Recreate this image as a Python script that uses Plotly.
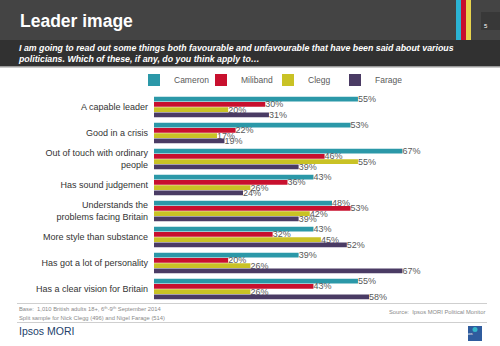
import plotly.graph_objects as go

categories = [
    "A capable leader",
    "Good in a crisis",
    "Out of touch with ordinary<br>people",
    "Has sound judgement",
    "Understands the<br>problems facing Britain",
    "More style than substance",
    "Has got a lot of personality",
    "Has a clear vision for Britain",
]
cameron = [55, 53, 67, 43, 48, 43, 39, 55]
miliband = [30, 22, 46, 36, 53, 32, 20, 43]
clegg = [20, 17, 55, 26, 42, 45, 26, 26]
farage = [31, 19, 39, 24, 39, 52, 67, 58]

series = [
    ("Cameron", cameron, "#2B98A8"),
    ("Miliband", miliband, "#C8102E"),
    ("Clegg", clegg, "#C9C225"),
    ("Farage", farage, "#4A3B64"),
]

W, H = 500, 346
L, R, T, B = 154, 487, 94, 302

def px(x):
    return (x - L) / (R - L)

def py(y):
    return (B - y) / (B - T)

font = "Liberation Sans, Arial, sans-serif"

fig = go.Figure()
for name, vals, col in series:
    fig.add_trace(go.Bar(
        name=name, y=categories, x=vals, orientation="h",
        marker=dict(color=col, line=dict(width=0)),
        text=[f"{v}%" for v in vals], textposition="outside", constraintext="none",
        textfont=dict(size=9, color="#595959", family=font),
        cliponaxis=False,
    ))

shapes = [
    dict(type="rect", xref="paper", yref="paper", x0=px(0), x1=px(W), y0=py(0), y1=py(40),
         fillcolor="#444444", line=dict(width=0), layer="below"),
    dict(type="rect", xref="paper", yref="paper", x0=px(0), x1=px(W), y0=py(40), y1=py(66),
         fillcolor="#313131", line=dict(width=0), layer="below"),
    dict(type="rect", xref="paper", yref="paper", x0=px(0), x1=px(W), y0=py(66), y1=py(67.5),
         fillcolor="#9a9a9a", line=dict(width=0), layer="below"),
    dict(type="rect", xref="paper", yref="paper", x0=px(456), x1=px(461), y0=py(0), y1=py(40),
         fillcolor="#2BB3D4", line=dict(width=0)),
    dict(type="rect", xref="paper", yref="paper", x0=px(461), x1=px(466), y0=py(0), y1=py(40),
         fillcolor="#C8102E", line=dict(width=0)),
    dict(type="rect", xref="paper", yref="paper", x0=px(466), x1=px(471), y0=py(0), y1=py(40),
         fillcolor="#E8D44D", line=dict(width=0)),
    dict(type="rect", xref="paper", yref="paper", x0=px(481), x1=px(500), y0=py(12), y1=py(30),
         fillcolor="#383838", line=dict(width=0)),
    dict(type="line", xref="paper", yref="paper", x0=px(17), x1=px(487), y0=py(303.5), y1=py(303.5),
         line=dict(color="#cfcfcf", width=1)),
    dict(type="line", xref="paper", yref="paper", x0=px(17), x1=px(487), y0=py(322.5), y1=py(322.5),
         line=dict(color="#cfcfcf", width=1)),
    dict(type="rect", xref="paper", yref="paper", x0=px(468), x1=px(482), y0=py(326), y1=py(341),
         fillcolor="#2F5C9E", line=dict(width=0)),
    dict(type="circle", xref="paper", yref="paper", x0=px(472.5), x1=px(477.5), y0=py(327), y1=py(332),
         fillcolor="#35B7C9", line=dict(width=0)),
]

annotations = [
    dict(text="<b>Leader image</b>", x=px(18), y=py(21), xref="paper", yref="paper",
         xanchor="left", yanchor="middle", showarrow=False,
         font=dict(size=17.5, color="white", family=font)),
    dict(text="<b><i>I am going to read out some things both favourable and unfavourable that have been said about various<br>politicians. Which of these, if any, do you think apply to\u2026</i></b>",
         x=px(16), y=py(53), xref="paper", yref="paper", xanchor="left", yanchor="middle",
         align="left", showarrow=False, font=dict(size=8.8, color="white", family=font)),
    dict(text="5", x=px(490), y=py(21), xref="paper", yref="paper", showarrow=False,
         font=dict(size=6, color="white", family=font)),
    dict(text="Base:  1,010 British adults 18+, 6<sup>th</sup>-9<sup>th</sup> September 2014",
         x=px(17), y=py(308.5), xref="paper", yref="paper", xanchor="left", yanchor="middle",
         showarrow=False, font=dict(size=5.8, color="#8a8a8a", family=font)),
    dict(text="Split sample for Nick Clegg (496) and Nigel Farage (514)",
         x=px(17), y=py(318), xref="paper", yref="paper", xanchor="left", yanchor="middle",
         showarrow=False, font=dict(size=5.8, color="#8a8a8a", family=font)),
    dict(text="Source:  Ipsos MORI Political Monitor",
         x=px(487), y=py(311.5), xref="paper", yref="paper", xanchor="right", yanchor="middle",
         showarrow=False, font=dict(size=5.8, color="#8a8a8a", family=font)),
    dict(text="Ipsos MORI", x=px(17), y=py(330.5), xref="paper", yref="paper",
         xanchor="left", yanchor="middle", showarrow=False,
         font=dict(size=10.5, color="#23416B", family=font)),
    dict(text="Ipsos", x=px(475), y=py(337.5), xref="paper", yref="paper", showarrow=False,
         font=dict(size=4, color="white", family=font)),
]

fig.update_layout(
    width=W, height=H,
    margin=dict(l=L, r=W - R, t=T, b=H - B, pad=0),
    paper_bgcolor="white", plot_bgcolor="white",
    barmode="group", bargap=0.19, bargroupgap=0.06,
    font=dict(family=font, color="#333333"),
    showlegend=True,
    legend=dict(orientation="h", x=px(134), y=py(80), xanchor="left", yanchor="middle",
                entrywidth=22, entrywidthmode="pixels", traceorder="normal",
                font=dict(size=8.5, color="#595959"), bgcolor="rgba(0,0,0,0)",
                tracegroupgap=0, itemclick=False),
    xaxis=dict(range=[0, 89.8], visible=False, fixedrange=True),
    yaxis=dict(autorange="reversed", showgrid=False, zeroline=False, showline=False,
               ticks="", ticklabelstandoff=5, tickfont=dict(size=9, color="#333333", family=font),
               fixedrange=True),
    shapes=shapes, annotations=annotations,
)

fig.write_html("out.html")
